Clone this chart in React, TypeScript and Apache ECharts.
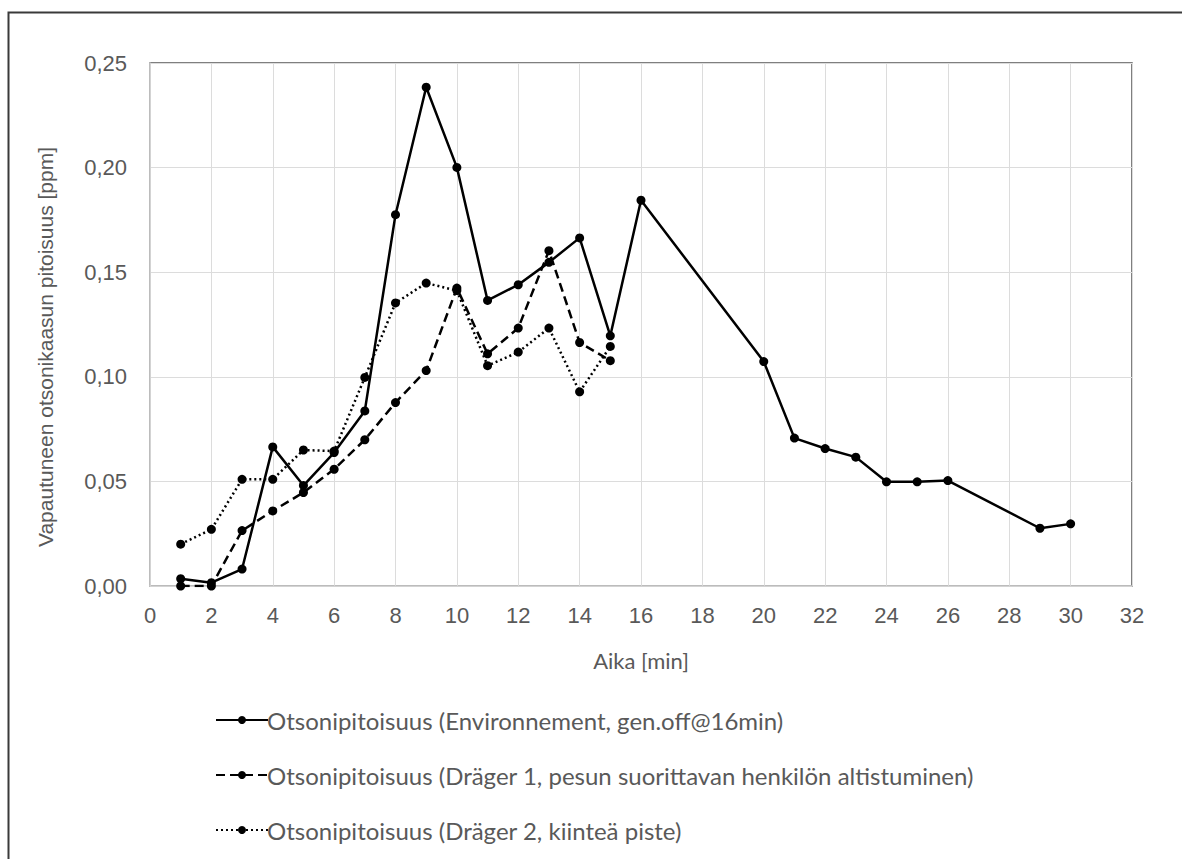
import React, { useEffect, useRef } from "react";
import * as echarts from "echarts";

const envX = [1, 2, 3, 4, 5, 6, 7, 8, 9, 10, 11, 12, 13, 14, 15, 16, 20, 21, 22, 23, 24, 25, 26, 29, 30];
const envY = [0.0035, 0.0016, 0.0081, 0.0665, 0.048, 0.0638, 0.0837, 0.1775, 0.2384, 0.2001, 0.1365, 0.144, 0.1547, 0.1664, 0.1196, 0.1844, 0.1073, 0.0707, 0.0657, 0.0616, 0.0498, 0.0498, 0.0504, 0.0276, 0.0297];

const drager1X = [1, 2, 3, 4, 5, 6, 7, 8, 9, 10, 11, 12, 13, 14, 15];
const drager1Y = [0.0, 0.0, 0.0265, 0.0359, 0.0447, 0.0558, 0.0699, 0.0877, 0.103, 0.1424, 0.111, 0.1233, 0.1603, 0.1164, 0.1077];

const drager2X = [1, 2, 3, 4, 5, 6, 7, 8, 9, 10, 11, 12, 13, 14, 15];
const drager2Y = [0.02, 0.0271, 0.051, 0.051, 0.065, 0.0645, 0.0997, 0.1353, 0.1448, 0.1412, 0.1053, 0.1118, 0.1233, 0.0928, 0.1145];

const seriesNames = [
  "Otsonipitoisuus (Environnement, gen.off@16min)",
  "Otsonipitoisuus (Dräger 1, pesun suorittavan henkilön altistuminen)",
  "Otsonipitoisuus (Dräger 2, kiinteä piste)",
];

const xAxisName = "Aika [min]";
const yAxisName = "Vapautuneen otsonikaasun pitoisuus [ppm]";

const pair = (xs: number[], ys: number[]) => xs.map((x, i) => [x, ys[i]]);

export default function App() {
  const ref = useRef<HTMLDivElement>(null);
  useEffect(() => {
    if (!ref.current) return;
    const chart = echarts.init(ref.current, null, { renderer: "svg" });
    const lineTypes: any[] = ["solid", [9, 5], [2, 3]];
    const datas = [pair(envX, envY), pair(drager1X, drager1Y), pair(drager2X, drager2Y)];
    chart.setOption({
      animation: false,
      backgroundColor: "#ffffff",
      grid: {
        left: 150,
        right: 50,
        top: 63,
        bottom: 273,
        show: true,
        borderColor: "#555555",
        borderWidth: 1.5,
        backgroundColor: "transparent",
      },
      graphic: [
        {
          type: "rect",
          shape: { x: 8.5, y: 12.5, width: 1400, height: 1000 },
          style: { fill: "none", stroke: "#3a3a3a", lineWidth: 2 },
          silent: true,
          z: 100,
        },
        {
          type: "text",
          x: 45,
          y: 347,
          rotation: Math.PI / 2,
          silent: true,
          style: {
            text: yAxisName,
            fontFamily: "Liberation Sans",
            fontSize: 21,
            fill: "#595959",
            align: "center",
            verticalAlign: "middle",
          },
        },
      ],
      xAxis: {
        type: "value",
        min: 0,
        max: 32,
        interval: 2,
        name: xAxisName,
        nameLocation: "middle",
        nameGap: 63,
        nameTextStyle: { fontFamily: "Lato", fontSize: 22, color: "#595959" },
        axisLine: { show: true, lineStyle: { color: "#d0d0d0", width: 1.5 } },
        axisTick: { show: false },
        axisLabel: { margin: 18, fontFamily: "Liberation Sans", fontSize: 22, color: "#595959" },
        splitLine: { show: true, lineStyle: { color: "#dcdcdc", width: 1 } },
      },
      yAxis: {
        type: "value",
        min: 0,
        max: 0.25,
        interval: 0.05,
        axisLine: { show: true, lineStyle: { color: "#d0d0d0", width: 1.5 } },
        axisTick: { show: false },
        axisLabel: {
          margin: 23,
          fontFamily: "Liberation Sans",
          fontSize: 22,
          color: "#595959",
          formatter: (v: number) => v.toFixed(2).replace(".", ","),
        },
        splitLine: { show: true, lineStyle: { color: "#dcdcdc", width: 1 } },
      },
      legend: {
        orient: "vertical",
        left: 210,
        top: 703,
        itemWidth: 52,
        itemHeight: 10,
        itemGap: 31,
        textStyle: { fontFamily: "Lato", fontSize: 24, color: "#595959", padding: [0, 0, 0, -6] },
        data: seriesNames,
      },
      series: seriesNames.map((name, i) => ({
        name,
        type: "line",
        data: datas[i],
        symbol: "circle",
        symbolSize: 9,
        color: "#000000",
        itemStyle: { color: "#000000" },
        lineStyle: { color: "#000000", width: 2.5, type: lineTypes[i] },
        z: 5 - i,
      })),
    });
    return () => chart.dispose();
  }, []);
  return (
    <div
      ref={ref}
      style={{ position: "absolute", left: 0, top: 0, width: 1182, height: 859 }}
    />
  );
}
